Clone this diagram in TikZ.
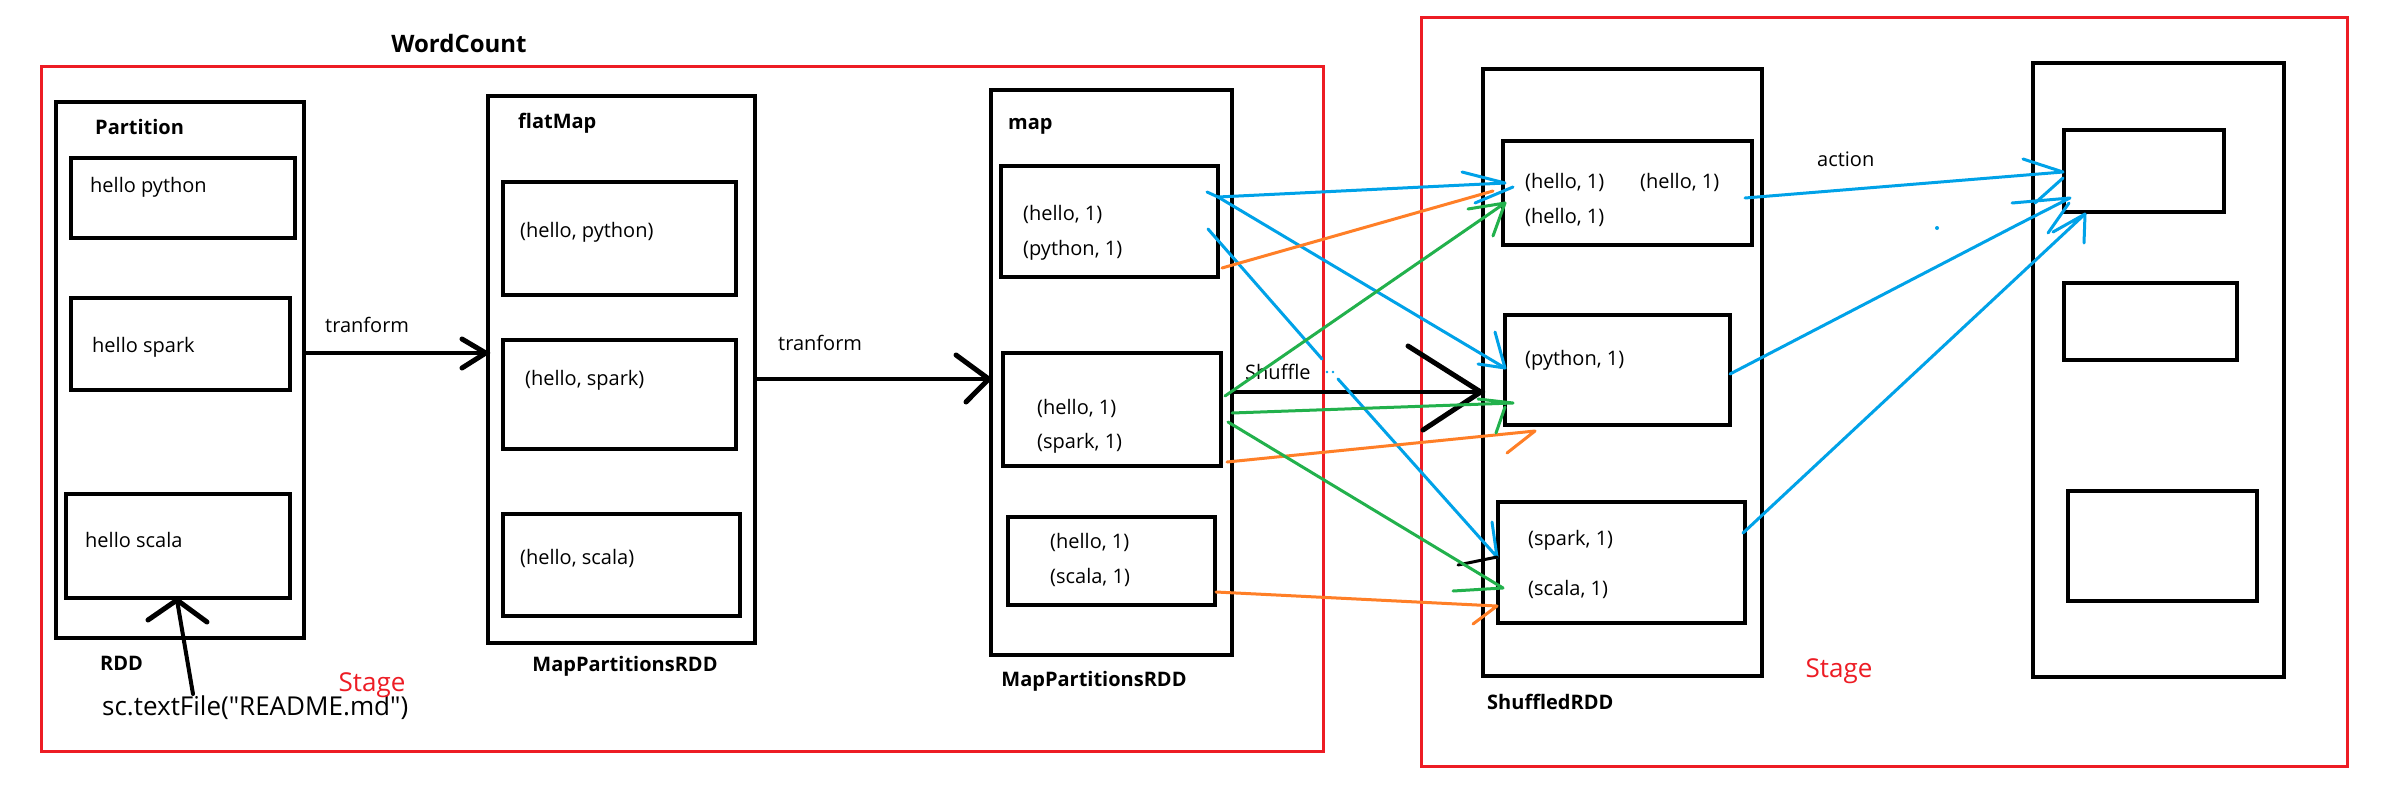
\documentclass[tikz,border=0pt]{standalone}
\usepackage{fontspec}
\setmainfont{Open Sans}
\newfontfamily\qfont{Open Sans}[Ligatures=ResetAll]
\usetikzlibrary{fit}
\definecolor{pblue}{HTML}{00A2E8}
\definecolor{porange}{HTML}{FF7F27}
\definecolor{pgreen}{HTML}{22B14C}
\definecolor{pred}{HTML}{ED1C24}
\begin{document}
\begin{tikzpicture}[x=1pt,y=-1pt,
  box/.style={draw=black, line width=4.5pt, rectangle, inner sep=0pt},
  stagebox/.style={draw=pred, line width=3pt, rectangle, inner sep=0pt},
  lbl/.style={font=\fontsize{20}{24}\selectfont, inner sep=0pt, anchor=west},
  ttl/.style={font=\fontsize{20}{24}\selectfont\bfseries, inner sep=0pt, anchor=west},
  redtxt/.style={font=\fontsize{26}{30}\selectfont, text=pred, inner sep=0pt},
  blk/.style={draw=black, line width=4.5pt, line cap=round},
  bl/.style={draw=pblue, line width=3pt, line cap=round, line join=round},
  org/.style={draw=porange, line width=3pt, line cap=round, line join=round},
  grn/.style={draw=pgreen, line width=3pt, line cap=round, line join=round}
]
\useasboundingbox (0,0) rectangle (2392,790);
\fill[white] (0,0) rectangle (2392,790);

% stage frames
\node[stagebox, fit={(41,66) (1323,751)}] (stage1) {};
\node[stagebox, fit={(1421,17) (2347,766)}] (stage2) {};

% RDD
\node[box, fit={(56,102) (304,638)}] (rdd) {};
\node[box, fit={(71,158) (295,238)}] (p1) {};
\node[box, fit={(71,298) (290,390)}] (p2) {};
\node[box, fit={(66,494) (290,598)}] (p3) {};
% flatMap
\node[box, fit={(488,96) (755,643)}] (fm) {};
\node[box, fit={(503,182) (736,295)}] (f1) {};
\node[box, fit={(503,340) (736,449)}] (f2) {};
\node[box, fit={(503,514) (740,616)}] (f3) {};
% map
\node[box, fit={(991,90) (1232,655)}] (mp) {};
\node[box, fit={(1001,166) (1218,277)}] (m1) {};
\node[box, fit={(1003,353) (1221,466)}] (m2) {};
\node[box, fit={(1008,517) (1215,605)}] (m3) {};
% shuffled
\node[box, fit={(1483,69) (1762,676)}] (sh) {};
\node[box, fit={(1503,141) (1752,245)}] (s1) {};
\node[box, fit={(1505,315) (1730,425)}] (s2) {};
\node[box, fit={(1498,502) (1745,623)}] (s3) {};
% result
\node[box, fit={(2033,63) (2284,677)}] (res) {};
\node[box, fit={(2064,130) (2224,212)}] (ra) {};
\node[box, fit={(2064,283) (2237,360)}] (rb) {};
\node[box, fit={(2068,491) (2257,601)}] (rc) {};

% texts
\node[ttl, anchor=center, font=\fontsize{24}{28}\selectfont\bfseries] (wc) at (459,43) {WordCount};
\node[ttl] (tpart) at (95,127) {Partition};
\node[lbl] (tp1) at (90,187) {hello python};
\node[lbl] (tp2) at (92,347) {hello spark};
\node[lbl] (tp3) at (85,540) {hello scala};
\node[ttl] (trdd) at (100,663) {RDD};
\node[lbl, font=\qfont\fontsize{26}{30}\selectfont] (tsc) at (102,708) {sc.textFile("README.md")};
\node[redtxt] (tst1) at (372,685) {Stage};
\node[ttl] (tfm) at (518,123) {flatMap};
\node[lbl] (tf1) at (520,232) {(hello, python)};
\node[lbl] (tf2) at (525,380) {(hello, spark)};
\node[lbl] (tf3) at (520,558) {(hello, scala)};
\node[ttl, anchor=center] (tmp1) at (625,666) {MapPartitionsRDD};
\node[lbl] (ttr1) at (325,325) {tranform};
\node[lbl] (ttr2) at (778,343) {tranform};
\node[ttl] (tmap) at (1008,126) {map};
\node[lbl] (tm1a) at (1023,214) {(hello, 1)};
\node[lbl] (tm1b) at (1023,250) {(python, 1)};
\node[lbl] (tm2a) at (1037,408) {(hello, 1)};
\node[lbl] (tm2b) at (1037,443) {(spark, 1)};
\node[lbl] (tm3a) at (1050,542) {(hello, 1)};
\node[lbl] (tm3b) at (1050,577) {(scala, 1)};
\node[ttl, anchor=center] (tmp2) at (1094,681) {MapPartitionsRDD};
\node[lbl] (tshuf) at (1245,372) {Shuffle};
\node[lbl] (ts1a) at (1525,182) {(hello, 1)};
\node[lbl] (ts1b) at (1640,182) {(hello, 1)};
\node[lbl] (ts1c) at (1525,217) {(hello, 1)};
\node[lbl] (ts2) at (1525,360) {(python, 1)};
\node[lbl] (ts3a) at (1528,540) {(spark, 1)};
\node[lbl] (ts3b) at (1528,589) {(scala, 1)};
\node[ttl] (tshr) at (1487,702) {ShuffledRDD};
\node[redtxt] (tst2) at (1839,671) {Stage};
\node[lbl] (tact) at (1817,159) {action};

% black transform arrows
\coordinate (t1s) at (rdd.east |- 0,353);
\coordinate (t1e) at (fm.west |- 0,353);
\draw[blk] (t1s) -- (t1e);
\draw[blk, line width=5pt] (462,339) -- (t1e) -- (462,368);
\coordinate (t2s) at (fm.east |- 0,379);
\coordinate (t2e) at (mp.west |- 0,379);
\draw[blk] (t2s) -- (t2e);
\draw[blk, line width=5pt] (956,355) -- (t2e) -- (966,402);
% shuffle arrow
\coordinate (shs) at (mp.east |- 0,392);
\coordinate (she) at (sh.west |- 0,392);
\draw[blk] (shs) -- (she);
\draw[blk, line width=5pt] (1408,346) -- (she) -- (1423,430);
% textFile arrow
\coordinate (tfs) at (193,694);
\coordinate (tfe) at (177,600);
\draw[blk, line width=4pt] (tfs) -- (tfe);
\draw[blk, line width=5pt] (148,620) -- (tfe) -- (207,622);

% blue
\coordinate (b1a) at (1207,192);
\coordinate (b1s) at (1218,197);
\coordinate (b1e) at (1505,183);
\draw[bl] (b1a) -- (b1s) -- (b1e) -- (1462,172);
\draw[bl] (1513,187) -- (1475,203);
\coordinate (b2e) at (1505,368);
\draw[bl] (b1s) -- (b2e);
\draw[bl] (1495,332) -- (b2e) -- (1478,364);
\coordinate (b3s) at (1208,229);
\coordinate (b3e) at (1497,557);
\draw[bl] (b3s) -- (1322,359);
\draw[bl] (1338,379) -- (b3e) -- (1492,522);
\fill[pblue] (1327,372) circle (1.3) (1333,372) circle (1.3);
\draw[draw=black, line width=3pt, line cap=round] (b3e) -- (1458,565);
\coordinate (b4s) at (1745,198);
\coordinate (b4e) at (2063,172);
\draw[bl] (b4s) -- (b4e) -- (2023,159);
\draw[bl] (2063,178) -- (2035,203);
\coordinate (b5s) at (1730,374);
\coordinate (b5e) at (2070,198);
\draw[bl] (b5s) -- (2017,225) -- (b5e) -- (2012,203);
\draw[bl] (2069,203) -- (2048,233);
\coordinate (b6s) at (1743,533);
\coordinate (b6e) at (2085,214);
\draw[bl] (b6s) -- (b6e) -- (2053,232);
\draw[bl] (b6e) -- (2084,243);
\fill[pblue] (1937,228) circle (2);

% orange
\coordinate (o1s) at (1222,268);
\coordinate (o1e) at (1493,191);
\draw[org] (o1s) -- (o1e);
\coordinate (o2s) at (1227,462);
\coordinate (o2e) at (1535,431);
\draw[org] (o2s) -- (o2e) -- (1507,453);
\coordinate (o3s) at (1216,592);
\coordinate (o3e) at (1497,606);
\draw[org] (o3s) -- (o3e) -- (1473,624);

% green
\coordinate (g1s) at (1225,396);
\coordinate (g1e) at (1505,203);
\draw[grn] (g1s) -- (g1e) -- (1468,209);
\draw[grn] (g1e) -- (1493,236);
\coordinate (g2s) at (1232,413);
\coordinate (g2e) at (1513,403);
\draw[grn] (g2s) -- (g2e) -- (1478,399);
\draw[grn] (1505,407) -- (1496,433);
\coordinate (g3s) at (1228,422);
\coordinate (g3e) at (1503,588);
\draw[grn] (g3s) -- (g3e) -- (1453,591);
\end{tikzpicture}
\end{document}
